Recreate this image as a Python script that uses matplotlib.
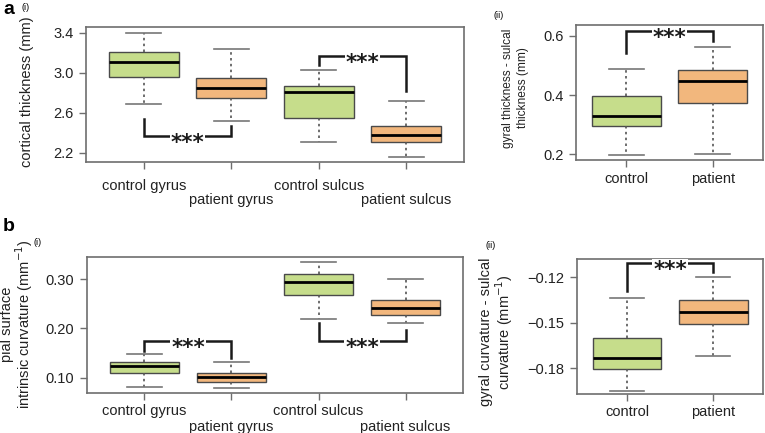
import matplotlib
matplotlib.use('Agg')
import matplotlib.pyplot as plt

plt.rcParams['font.family'] = ['Liberation Sans', 'DejaVu Sans']

#%% Data ----------------------------------------------------------------------
groups4 = ['control gyrus', 'patient gyrus', 'control sulcus', 'patient sulcus']
groups2 = ['control', 'patient']

# (lower whisker, Q1, median, Q3, upper whisker)
thick = [[2.689, 2.961, 3.111, 3.207, 3.400],
         [2.523, 2.745, 2.851, 2.948, 3.240],
         [2.310, 2.549, 2.808, 2.868, 3.024],
         [2.163, 2.310, 2.383, 2.472, 2.715]]
thick_diff = [[0.198, 0.296, 0.330, 0.398, 0.488],
              [0.201, 0.372, 0.446, 0.484, 0.564]]
curv = [[0.081, 0.110, 0.123, 0.131, 0.148],
        [0.079, 0.092, 0.102, 0.110, 0.131],
        [0.220, 0.267, 0.295, 0.310, 0.334],
        [0.211, 0.227, 0.241, 0.257, 0.300]]
curv_diff = [[-0.1947, -0.1807, -0.1734, -0.1601, -0.1338],
             [-0.1719, -0.1509, -0.1426, -0.1353, -0.1196]]

# significance brackets: (x1, x2, y of bar, y end left, y end right)
br_thick = [(1, 2, 2.369, 2.542, 2.466), (3, 4, 3.164, 3.074, 2.818)]
br_thick_diff = [(1, 2, 0.615, 0.541, 0.584)]
br_curv = [(1, 2, 0.175, 0.154, 0.141), (3, 4, 0.175, 0.212, 0.197)]
br_curv_diff = [(1, 2, -0.1108, -0.1288, -0.1167)]

green = '#c6dd8b'
orange = '#f2b77d'
grey = '#6e6e6e'


def boxes(ax, data, labels, ylim, yticks, yticklabels, lab_off, brackets):
    n = len(data)
    stats = [dict(whislo=d[0], q1=d[1], med=d[2], q3=d[3], whishi=d[4],
                  fliers=[]) for d in data]
    pos = list(range(1, n + 1))
    bp = ax.bxp(stats, positions=pos, widths=0.8, patch_artist=True,
                showfliers=False, capwidths=0.4,
                boxprops=dict(edgecolor='#4a4a4a', linewidth=1.0),
                medianprops=dict(color='black', linewidth=2.0),
                whiskerprops=dict(color='#555555', linewidth=1.2,
                                  linestyle=(0, (1.5, 2))),
                capprops=dict(color='#777777', linewidth=1.2))
    for i, b in enumerate(bp['boxes']):
        b.set_facecolor(green if i % 2 == 0 else orange)
    ax.set_xlim(0.5 - 0.04 * n, n + 0.5 + 0.04 * n)
    ax.set_ylim(*ylim)
    ax.set_yticks(yticks)
    ax.set_yticklabels(yticklabels, fontsize=10.5, color='#222222')
    ax.set_xticks(pos)
    ax.set_xticklabels([''] * n)
    ax.tick_params(length=5, width=1, color=grey, pad=4)
    for s in ax.spines.values():
        s.set_color(grey)
        s.set_linewidth(1.2)
    for i, lab in enumerate(labels):
        off = lab_off[0] if (i % 2 == 0 or n == 2) else lab_off[1]
        ax.annotate(lab, xy=(pos[i], 0), xycoords=('data', 'axes fraction'),
                    xytext=(0, -off), textcoords='offset points',
                    ha='center', va='top', fontsize=10.5, color='#222222')
    for x1, x2, yb, yl, yr in brackets:
        ax.plot([x1, x1, x2, x2], [yl, yb, yb, yr], color='#1a1a1a',
                lw=1.8, solid_joinstyle='miter', zorder=4)
        ax.annotate('***', xy=((x1 + x2) / 2, yb), xytext=(0, -5),
                    textcoords='offset points', ha='center', va='center',
                    fontsize=15.5, fontweight='heavy', family='DejaVu Sans',
                    color='#1a1a1a', zorder=5,
                    bbox=dict(boxstyle='square,pad=0.05', fc='white',
                              ec='none'))


W, H = 765, 433
fig = plt.figure(figsize=(W / 100, H / 100), dpi=100)


def add_ax(l, r, t, b):
    return fig.add_axes([l / W, 1 - b / H, (r - l) / W, (b - t) / H])


ax1 = add_ax(86, 464, 27, 162)
ax2 = add_ax(576, 763, 25, 160)
ax3 = add_ax(87, 463, 257, 393)
ax4 = add_ax(577, 763, 259, 394)

boxes(ax1, thick, groups4, (2.110, 3.457), [2.2, 2.6, 3.0, 3.4],
      ['2.2', '2.6', '3.0', '3.4'], (12, 22), br_thick)
boxes(ax2, thick_diff, groups2, (0.180, 0.637), [0.2, 0.4, 0.6],
      ['0.2', '0.4', '0.6'], (8.5, 8.5), br_thick_diff)
boxes(ax3, curv, groups4, (0.069, 0.345), [0.10, 0.20, 0.30],
      ['0.10', '0.20', '0.30'], (8, 19.5), br_curv)
boxes(ax4, curv_diff, groups2, (-0.1969, -0.108), [-0.18, -0.15, -0.12],
      ['\u22120.18', '\u22120.15', '\u22120.12'], (8, 8), br_curv_diff)

# y labels
kw = dict(rotation=90, ha='center', va='center', color='#222222',
          linespacing=1.0)
fig.text(27 / W, 1 - 92 / H, 'cortical thickness (mm)', fontsize=10.5, **kw)
fig.text(515.5 / W, 1 - 88 / H, 'gyral thickness - sulcal\nthickness (mm)',
         fontsize=8.6, **dict(kw, linespacing=1.25))
fig.text(17.5 / W, 1 - 324 / H,
         'pial surface\nintrinsic curvature (mm$^{-1}$)', fontsize=10.5, **kw)
fig.text(497 / W, 1 - 332 / H,
         'gyral curvature - sulcal\ncurvature (mm$^{-1}$)', fontsize=10.5, **kw)

# panel letters
fig.text(3 / W, 1 - 231 / H, 'b', fontsize=14, fontweight='bold')
fig.text(3 / W, 1 - 14 / H, 'a', fontsize=14, fontweight='bold')
fig.text(22 / W, 1 - 10 / H, '(i)', fontsize=6.5)
fig.text(493 / W, 1 - 18 / H, '(ii)', fontsize=6.5)
fig.text(34 / W, 1 - 245 / H, '(i)', fontsize=6.5)
fig.text(485 / W, 1 - 248 / H, '(ii)', fontsize=6.5)

fig.savefig('out.png', dpi=100, facecolor='w')
